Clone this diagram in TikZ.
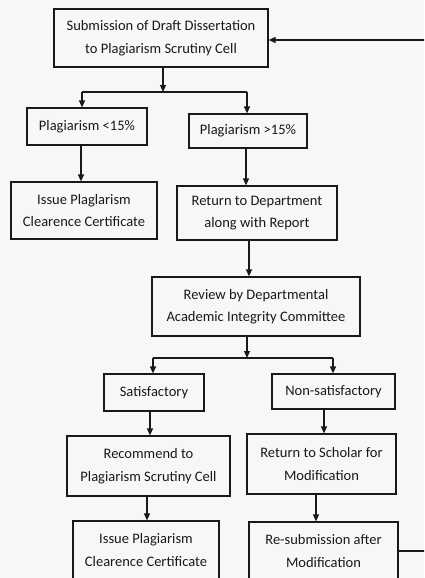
\documentclass[tikz,border=0pt]{standalone}
\usepackage{fontspec}
\setmainfont{Carlito}
\usetikzlibrary{arrows.meta,calc}
\definecolor{bgpaper}{RGB}{246,247,249}
\begin{document}
\begin{tikzpicture}[x=1pt,y=-1pt,
  box/.style={draw=black!90,line width=1.2pt,inner sep=0pt,align=center,
    font=\fontsize{14.5}{22.5}\selectfont,text=black!90},
  arr/.style={draw=black!90,line width=1.2pt,-{Triangle[length=7pt,width=6pt]}},
  ln/.style={draw=black!90,line width=1.2pt}]
\clip (0,0) rectangle (424,578);
\fill[bgpaper] (0,0) rectangle (424,578);
\node[box,minimum width=214,minimum height=58] (sub) at (161,38) {Submission of Draft Dissertation\\to Plagiarism Scrutiny Cell};
\node[box,minimum width=120,minimum height=37] (lt) at (87,126.5) {Plagiarism <15\%};
\node[box,minimum width=118,minimum height=34] (gt) at (248,131) {Plagiarism >15\%};
\node[box,minimum width=146,minimum height=57] (iss1) at (84,210.5) {Issue Plaglarism\\Clearence Certificate};
\node[box,minimum width=160,minimum height=54] (ret) at (257,213) {Return to Department\\along with Report};
\node[box,minimum width=208,minimum height=59] (rev) at (256,306.5) {Review by Departmental\\Academic Integrity Committee};
\node[box,minimum width=100,minimum height=37] (sat) at (154,392.5) {Satisfactory};
\node[box,minimum width=123,minimum height=35] (nsat) at (333.5,391.5) {Non-satisfactory};
\node[box,minimum width=163,minimum height=60] (rec) at (148.5,466) {Recommend to\\Plagiarism Scrutiny Cell};
\node[box,minimum width=149,minimum height=60] (rets) at (321.5,464) {Return to Scholar for\\Modification};
\node[box,minimum width=146,minimum height=58] (iss2) at (146,550) {Issue Plagiarism\\Clearence Certificate};
\node[box,minimum width=149,minimum height=58] (resub) at (323.5,551) {Re-submission after\\Modification};
% split 1
\coordinate (s1) at (163,92);
\coordinate (s1l) at (82,92);
\coordinate (s1r) at (247,92);
\draw[arr] (sub.south -| s1) -- (s1);
\draw[ln] (s1l) -- (s1r);
\draw[arr] (s1l) -- (lt.north -| s1l);
\draw[arr] (s1r) -- (gt.north -| s1r);
\draw[arr] ([xshift=-6pt]lt.south) -- ([xshift=-6pt]lt.south |- iss1.north);
\draw[arr] ([xshift=-2pt]gt.south) -- ([xshift=-2pt]gt.south |- ret.north);
\draw[arr] ([xshift=-8pt]ret.south) -- ([xshift=-8pt]ret.south |- rev.north);
% split 2
\coordinate (s2) at (247,358);
\coordinate (s2l) at (153,358);
\coordinate (s2r) at (333,358);
\draw[arr] (rev.south -| s2) -- (s2);
\draw[ln] (s2l) -- (s2r);
\draw[arr] (s2l) -- (sat.north -| s2l);
\draw[arr] (s2r) -- (nsat.north -| s2r);
\draw[arr] ([xshift=-4pt]sat.south) -- ([xshift=-4pt]sat.south |- rec.north);
\draw[arr] ([xshift=-9.5pt]nsat.south) -- ([xshift=-9.5pt]nsat.south |- rets.north);
\draw[arr] ([xshift=-1.5pt]rec.south) -- ([xshift=-1.5pt]rec.south |- iss2.north);
\draw[arr] ([xshift=-5.5pt]rets.south) -- ([xshift=-5.5pt]rets.south |- resub.north);
% feedback loop (vertical part lies beyond the right edge)
\coordinate (fbB) at (432,551);
\coordinate (fbT) at (432,40);
\draw[arr] (resub.east |- fbB) -- (fbB) -- (fbT) -- (sub.east |- fbT);
\end{tikzpicture}
\end{document}
